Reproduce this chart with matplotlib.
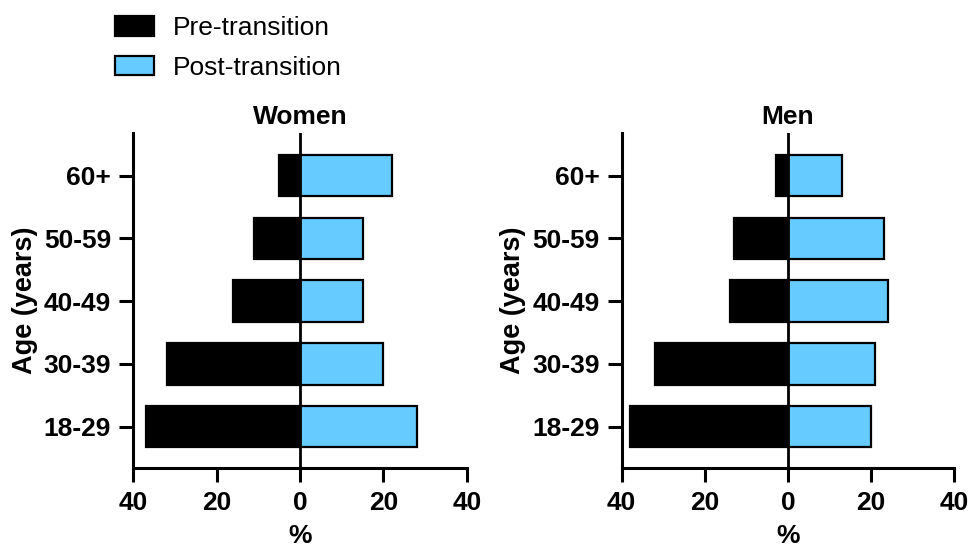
import numpy as np
import matplotlib
matplotlib.use("Agg")
import matplotlib.pyplot as plt
from matplotlib.ticker import FuncFormatter

plt.rcParams['font.family'] = ['Liberation Sans', 'DejaVu Sans']

# age groups, bottom to top
age_groups = ['18-29', '30-39', '40-49', '50-59', '60+']

# share of people (%) in each age group
women_pre = [37, 32, 16, 11, 5]
women_post = [28, 20, 15, 15, 22]
men_pre = [38, 32, 14, 13, 3]
men_post = [20, 21, 24, 23, 13]

PRE_COLOR = 'black'
POST_COLOR = '#66ccff'

fig = plt.figure(figsize=(9.71, 5.51), dpi=100)

ax_w = fig.add_axes([0.1373, 0.1512, 0.3434, 0.6069])
ax_m = fig.add_axes([0.6403, 0.1512, 0.3425, 0.6069])


def draw_panel(ax, pre, post, title):
    y = np.arange(len(age_groups))
    pre_bars = ax.barh(y, -np.array(pre), height=0.66, color=PRE_COLOR,
                       edgecolor='black', linewidth=1.6, zorder=2)
    post_bars = ax.barh(y, post, height=0.66, color=POST_COLOR,
                        edgecolor='black', linewidth=1.6, zorder=2)
    ax.axvline(0, color='black', linewidth=2.0, zorder=3)

    ax.set_xlim(-40, 40)
    ax.set_ylim(-0.655, len(age_groups) - 1 + 0.675)
    ax.set_xticks([-40, -20, 0, 20, 40])
    ax.xaxis.set_major_formatter(FuncFormatter(lambda v, p: f'{abs(v):.0f}'))
    ax.set_yticks(y)
    ax.set_yticklabels(age_groups)

    for side in ['top', 'right']:
        ax.spines[side].set_visible(False)
    for side in ['left', 'bottom']:
        ax.spines[side].set_linewidth(2.2)

    ax.tick_params(axis='both', length=10, width=2.2, labelsize=19)
    ax.tick_params(axis='x', pad=7)
    ax.tick_params(axis='y', pad=6)
    for lbl in ax.get_xticklabels() + ax.get_yticklabels():
        lbl.set_fontweight('bold')

    ax.set_title(title, fontsize=19, fontweight='bold', pad=7)
    ax.set_xlabel('%', fontsize=19, fontweight='bold', labelpad=6)
    ax.set_ylabel('Age (years)', fontsize=19.5, fontweight='bold', labelpad=4)
    return pre_bars, post_bars


pre_bars, post_bars = draw_panel(ax_w, women_pre, women_post, 'Women')
draw_panel(ax_m, men_pre, men_post, 'Men')

fig.legend([pre_bars, post_bars], ['Pre-transition', 'Post-transition'],
           loc='upper left', bbox_to_anchor=(0.1075, 0.99), frameon=False,
           fontsize=19, handlelength=1.48, handleheight=0.76,
           handletextpad=0.72, labelspacing=0.6, borderaxespad=0)

fig.savefig('out.png', dpi=100)
